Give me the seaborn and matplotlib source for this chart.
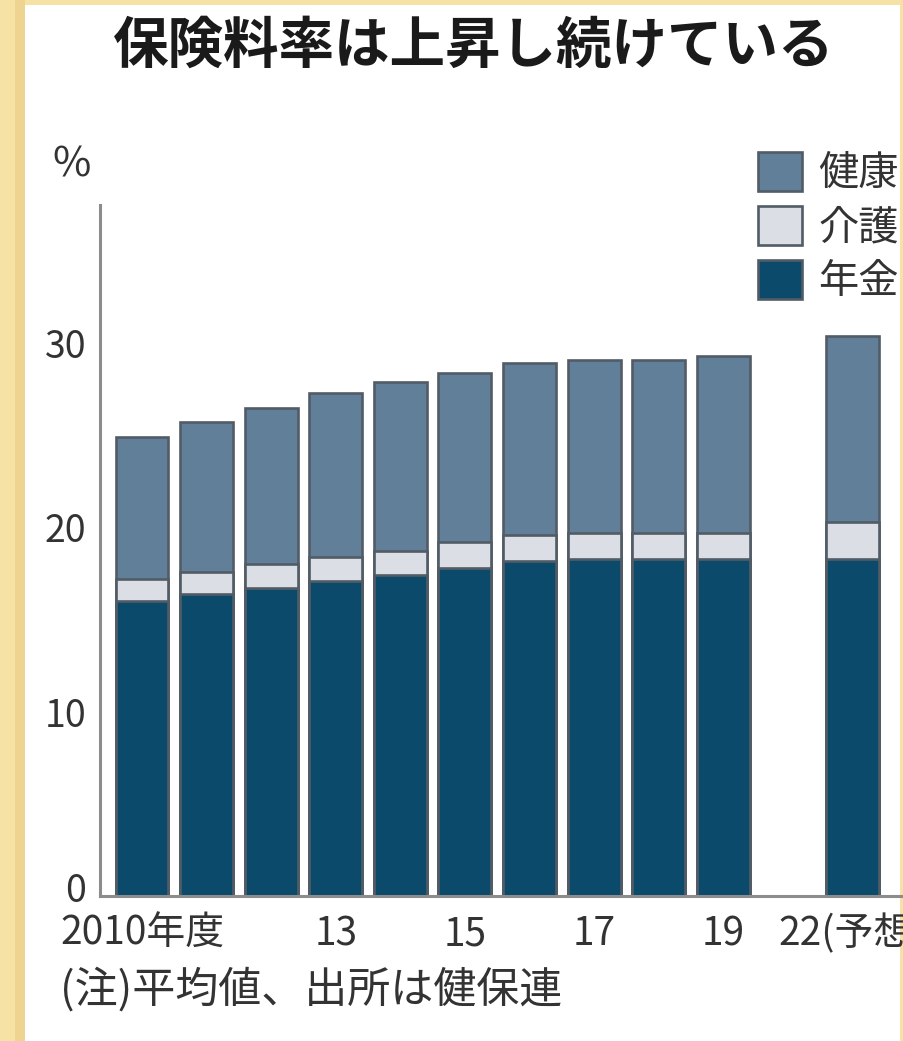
import numpy as np
import pandas as pd
import matplotlib
matplotlib.use("Agg")
import matplotlib.pyplot as plt
import matplotlib.transforms as mtransforms
from matplotlib.patches import Rectangle
import seaborn as sns

# 保険料率（%）: 健康・介護・年金
years = ["2010", "11", "12", "13", "14", "15", "16", "17", "18", "19", "22"]
pension = [16.0, 16.4, 16.7, 17.1, 17.4, 17.8, 18.2, 18.3, 18.3, 18.3, 18.3]
care = [1.2, 1.2, 1.3, 1.3, 1.3, 1.4, 1.4, 1.4, 1.4, 1.4, 2.0]
health = [7.7, 8.1, 8.5, 8.9, 9.2, 9.2, 9.3, 9.4, 9.4, 9.6, 10.1]

tick_pos = [0, 3, 5, 7, 9, 11]
tick_labels = ["2010年度", "13", "15", "17", "19", "22(予想)"]
y_ticks = [0, 10, 20, 30]

colors = {"健康": "#617f98", "介護": "#dcdee5", "年金": "#0b4a6b"}
edge = "#515c66"

df = pd.DataFrame({"year": years, "年金": pension, "介護": care, "健康": health})
df["top_care"] = df["年金"] + df["介護"]
df["top_health"] = df["top_care"] + df["健康"]

# blank slot between 2019 and 2022
order = years[:10] + [" "] + years[10:]

sns.set_theme(style="white")
plt.rcParams["font.family"] = ["Noto Sans CJK JP", "DejaVu Sans"]

W, H = 904, 1041
fig = plt.figure(figsize=(W / 100, H / 100), dpi=100)
fig.patch.set_facecolor("#f7e2a6")
# inner shade of the frame and white panel
fig.patches.append(Rectangle((15 / W, 0), 10 / W, 1, transform=fig.transFigure,
                             facecolor="#eed391", edgecolor="none", zorder=-5))
fig.patches.append(Rectangle((25 / W, 0), (900 - 25) / W, (H - 5) / H,
                             transform=fig.transFigure, facecolor="white",
                             edgecolor="none", zorder=-5))

ax = fig.add_axes([100 / W, (H - 896) / H, 843 / W, (896 - 205) / H])
ax.set_facecolor("none")
ax.set_zorder(2)

bar_kw = dict(order=order, width=0.82, saturation=1, edgecolor=edge,
              linewidth=1.9, ax=ax)
sns.barplot(data=df, x="year", y="top_health", color=colors["健康"], label="健康", **bar_kw)
sns.barplot(data=df, x="year", y="top_care", color=colors["介護"], label="介護", **bar_kw)
sns.barplot(data=df, x="year", y="年金", color=colors["年金"], label="年金", **bar_kw)

ax.set_xlim(-0.65, 12.4)
ax.set_ylim(0, 37.5)
ax.set_xlabel("")
ax.set_ylabel("")

ax.set_xticks(tick_pos)
ax.set_xticklabels(tick_labels)
ax.set_yticks(y_ticks)
ax.set_yticklabels([str(v) for v in y_ticks])
ax.tick_params(axis="x", length=0, labelsize=28, labelcolor="#333333", pad=13)
ax.tick_params(axis="y", direction="in", length=10, width=1.8, color="#8a8a8a",
               labelsize=27, labelcolor="#333333", pad=10)

# lift the "0" label a little so it sits above the year labels
zero_label = ax.get_yticklabels()[0]
zero_label.set_transform(zero_label.get_transform() +
                         mtransforms.ScaledTranslation(0, 9 / 100, fig.dpi_scale_trans))

for s in ["top", "right"]:
    ax.spines[s].set_visible(False)
for s in ["left", "bottom"]:
    ax.spines[s].set_color("#8c8c8c")
    ax.spines[s].set_linewidth(2.2)

leg = ax.get_legend()
if leg is not None:
    leg.remove()
handles, labels = ax.get_legend_handles_labels()
fig.legend(handles, labels, loc="upper left",
           bbox_to_anchor=(742 / W, 1 - 136 / H), frameon=False,
           fontsize=29, handlelength=1.1, handleheight=1.1,
           handletextpad=0.4, labelspacing=0.3, borderaxespad=0,
           labelcolor="#333333")

fig.text(474 / W, 1 - 47 / H, "保険料率は上昇し続けている", ha="center", va="center",
         fontsize=40, fontweight="bold", color="#1a1a1a")
fig.text(72 / W, 1 - 165 / H, "%", ha="center", va="center", fontsize=30,
         color="#333333")
fig.text(60 / W, 1 - 990 / H, "(注)平均値、出所は健保連", ha="left", va="center",
         fontsize=31, color="#333333")

fig.savefig("out.png", dpi=100)
